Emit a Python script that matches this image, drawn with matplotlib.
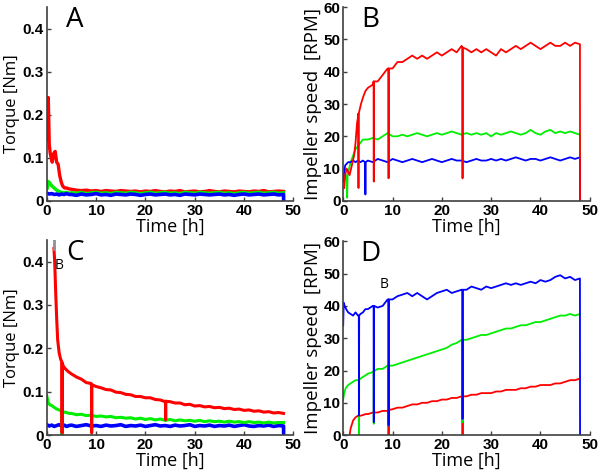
import numpy as np
import matplotlib
matplotlib.use("Agg")
import matplotlib.pyplot as plt
from matplotlib.ticker import FuncFormatter

# hourly grid used after the start-up transient (5 h .. 48 h)
late_t = np.arange(5, 49)

# ---------------- panel A : torque ----------------
a_red_t = [0.15, 0.3, 0.5, 0.7, 0.9, 1.1, 1.4, 1.7, 2.0, 2.3, 2.6, 2.9, 3.2, 3.6, 4.0, 4.5]
a_red_v = [0.14, 0.24, 0.13, 0.11, 0.10, 0.09, 0.11, 0.115, 0.09, 0.085, 0.06, 0.045, 0.035, 0.03, 0.03, 0.028]
a_red_late = [0.027, 0.025, 0.024, 0.025, 0.023, 0.024, 0.022, 0.024, 0.023, 0.022,
              0.024, 0.023, 0.022, 0.023, 0.021, 0.023, 0.022, 0.024, 0.022, 0.021,
              0.023, 0.022, 0.024, 0.021, 0.022, 0.023, 0.021, 0.022, 0.024, 0.022,
              0.021, 0.023, 0.022, 0.021, 0.023, 0.022, 0.021, 0.023, 0.022, 0.024,
              0.021, 0.022, 0.023, 0.022]
a_green_t = [0.1, 0.3, 0.6, 1.0, 1.5, 2.0, 2.5, 3.0, 3.5, 4.0, 4.5]
a_green_v = [0.03, 0.045, 0.042, 0.035, 0.03, 0.025, 0.022, 0.02, 0.019, 0.02, 0.018]
a_green_late = [0.019, 0.018, 0.020, 0.017, 0.019, 0.020, 0.018, 0.019, 0.017, 0.020,
                0.019, 0.018, 0.020, 0.019, 0.017, 0.019, 0.020, 0.018, 0.019, 0.020,
                0.018, 0.019, 0.017, 0.020, 0.019, 0.018, 0.020, 0.019, 0.018, 0.019,
                0.020, 0.018, 0.019, 0.017, 0.019, 0.020, 0.018, 0.019, 0.020, 0.018,
                0.019, 0.020, 0.018, 0.019]
a_blue_t = [0.0, 0.5, 1.0, 1.5, 2.0, 2.5, 3.0, 3.5, 4.0, 4.5]
a_blue_v = [0.018, 0.016, 0.017, 0.015, 0.016, 0.014, 0.016, 0.015, 0.017, 0.015]
a_blue_late = [0.015, 0.013, 0.016, 0.014, 0.015, 0.017, 0.014, 0.015, 0.013, 0.016,
               0.015, 0.014, 0.016, 0.015, 0.013, 0.015, 0.016, 0.014, 0.015, 0.016,
               0.014, 0.015, 0.013, 0.016, 0.015, 0.014, 0.016, 0.015, 0.014, 0.015,
               0.016, 0.014, 0.015, 0.013, 0.015, 0.016, 0.014, 0.015, 0.016, 0.014,
               0.015, 0.016, 0.014, 0.015]

# ---------------- panel B : impeller speed ----------------
b_red_t = [0.2, 0.4, 0.7, 1.0, 1.3, 1.6, 1.9, 2.2, 2.5, 2.8, 3.0, 3.3, 3.6, 4.0, 4.5]
b_red_v = [4, 8, 10, 9, 8, 10, 12, 14, 18, 24, 26, 28, 30, 32, 34]
b_red_late = [35, 36, 37, 39, 41, 41, 43, 43, 44, 45,
              44, 45, 44, 45, 46, 45, 46, 47, 46, 48,
              47, 46, 47, 46, 47, 46, 45, 47, 46, 47,
              48, 47, 48, 49, 48, 47, 48, 49, 48, 48,
              49, 48, 49, 48.5]
b_red_spike_t = [3.1, 6.2, 9.2, 24.2]
b_red_spike_lvl = [27, 37, 41, 47.5]
b_red_spike_dep = [4, 6, 7, 7]
b_green_t = [0.5, 0.7, 0.8, 0.9, 1.2, 1.5, 2.0, 2.5, 3.0, 3.5, 4.0, 4.5]
b_green_v = [8, 6, 1, 8, 10, 12, 14, 16, 17, 18, 19, 19]
b_green_late = [19, 19.5, 19, 20, 21, 20, 20, 20.5, 20, 20.5,
                21, 20.5, 20, 20.5, 21, 20.5, 21, 21.5, 21, 20.5,
                21, 20.5, 21, 20.5, 21, 20, 21, 20.5, 21, 21.5,
                21, 20.5, 21, 22, 21, 20.5, 21.5, 22, 21, 21.5,
                21, 21.5, 21, 20.5]
b_blue_t = [0.0, 0.2, 0.4, 0.7, 1.0, 1.5, 2.0, 2.5, 3.0, 3.5, 4.0, 4.4]
b_blue_v = [6, 9, 11, 11.5, 12, 12, 12.5, 12, 12.5, 12, 12.5, 12]
b_blue_late = [12.5, 12, 13, 12.5, 12, 13, 12.5, 12, 12.5, 13,
               12.5, 12, 12.5, 13, 12.5, 12, 12.5, 13, 12.5, 12.5,
               12, 12.5, 13, 12.5, 12.5, 13, 12.5, 13, 12.5, 13,
               13.5, 13, 12.5, 13, 13, 12.5, 13, 13.5, 13, 12.5,
               13, 13.5, 13, 13.5]
b_blue_spike_t = [4.5]
b_blue_spike_lvl = [12]
b_blue_spike_dep = [2]

# ---------------- panel C : torque ----------------
c_red_t = [1.45, 1.6, 1.8, 2.0, 2.2, 2.5, 2.8, 3.0, 3.3, 3.6, 4.0, 4.5]
c_red_v = [0.43, 0.40, 0.33, 0.27, 0.22, 0.19, 0.175, 0.17, 0.16, 0.155, 0.15, 0.145]
c_red_late = [0.141, 0.134, 0.129, 0.121, 0.119, 0.112, 0.109, 0.105, 0.104, 0.099,
              0.098, 0.094, 0.093, 0.089, 0.089, 0.086, 0.086, 0.082, 0.081, 0.077,
              0.077, 0.074, 0.074, 0.070, 0.071, 0.067, 0.068, 0.065, 0.066, 0.063,
              0.064, 0.061, 0.062, 0.059, 0.060, 0.057, 0.058, 0.055, 0.056, 0.053,
              0.054, 0.051, 0.052, 0.050]
c_red_spike_t = [3.1, 9.1, 24.1]
c_red_spike_lvl = [0.166, 0.116, 0.078]
c_red_spike_dep = [0.005, 0.005, 0.035]
c_green_t = [0.0, 0.3, 0.6, 1.0, 1.5, 2.0, 2.5, 3.0, 3.5, 4.0, 4.5]
c_green_v = [0.09, 0.075, 0.07, 0.068, 0.064, 0.06, 0.058, 0.055, 0.053, 0.052, 0.05]
c_green_late = [0.050, 0.047, 0.048, 0.045, 0.046, 0.043, 0.044, 0.042, 0.043, 0.040,
                0.041, 0.039, 0.040, 0.037, 0.039, 0.036, 0.038, 0.035, 0.037, 0.034,
                0.036, 0.033, 0.035, 0.033, 0.034, 0.032, 0.034, 0.031, 0.033, 0.031,
                0.032, 0.030, 0.032, 0.030, 0.031, 0.029, 0.031, 0.029, 0.030, 0.028,
                0.030, 0.028, 0.029, 0.029]
c_green_spike_t = [3.1]
c_green_spike_lvl = [0.055]
c_green_spike_dep = [0.0]
c_blue_t = [0.0, 0.5, 1.0, 1.5, 2.0, 2.5, 3.0, 3.5, 4.0, 4.5]
c_blue_v = [0.024, 0.021, 0.023, 0.020, 0.022, 0.024, 0.021, 0.023, 0.020, 0.022]
c_blue_late = [0.023, 0.020, 0.022, 0.024, 0.021, 0.022, 0.020, 0.023, 0.021, 0.022,
               0.024, 0.020, 0.022, 0.021, 0.023, 0.020, 0.022, 0.024, 0.021, 0.022,
               0.020, 0.023, 0.021, 0.022, 0.024, 0.020, 0.022, 0.021, 0.023, 0.020,
               0.022, 0.021, 0.023, 0.020, 0.022, 0.024, 0.021, 0.020, 0.022, 0.021,
               0.023, 0.020, 0.022, 0.021]

# ---------------- panel D : impeller speed ----------------
d_red_t = [1.3, 1.5, 1.8, 2.0, 2.5, 3.0, 3.5, 4.0, 4.5]
d_red_v = [0, 2, 3.5, 4.5, 5.5, 6, 6, 6.2, 6.5]
d_red_late = [6.5, 7, 7, 7.5, 7.5, 8, 8.5, 8.5, 9, 9.5,
              9.5, 10, 10, 10.5, 10.5, 11, 11, 11.5, 11.5, 12,
              12, 12.5, 12.5, 13, 13, 13, 13.5, 13.5, 14, 14,
              14, 14.5, 14.5, 15, 15, 15.5, 15.5, 15.5, 16, 16,
              16.5, 17, 17, 17.5]
d_red_spike_t = [3.2, 9.2, 24.2]
d_red_spike_lvl = [6, 7.8, 12]
d_red_spike_dep = [0, 0, 0]
d_green_t = [0.0, 0.2, 0.5, 1.0, 1.5, 2.0, 2.5, 3.0, 3.5, 4.0, 4.5]
d_green_v = [11, 13, 14.5, 15.5, 16, 16.5, 17, 17, 17.5, 18, 18.5]
d_green_late = [19, 19.5, 20.5, 20.5, 21.5, 21.5, 22, 22.5, 23, 23.5,
                24, 24.5, 25, 25.5, 26, 26.5, 27, 28, 28.5, 29.5,
                29.5, 30, 30.5, 31, 31, 31.5, 32, 32.5, 33, 33,
                33.5, 34, 34, 34.5, 35, 35, 35.5, 36, 36.5, 37,
                37, 37.5, 37, 37.5]
d_green_spike_t = [3.2, 6.2, 9.2, 24.2]
d_green_spike_lvl = [17, 19.8, 21.5, 29.5]
d_green_spike_dep = [0, 3.5, 3, 4]
d_blue_t = [0.0, 0.1, 0.3, 0.6, 1.0, 1.5, 2.0, 2.5, 3.0, 3.5, 4.0, 4.5]
d_blue_v = [34, 41, 40, 39, 38, 37.5, 37, 38, 37, 37.5, 38, 39]
d_blue_late = [39, 40, 39.5, 40, 42, 42, 43, 43.5, 44, 43,
               44, 43, 42, 43, 44, 44.5, 45, 44, 44.5, 45,
               45, 46, 45.5, 45, 46, 45.5, 46, 46.5, 47, 46.5,
               47, 46.5, 47, 47.5, 47, 48, 47.5, 48, 49, 49.5,
               48.5, 49, 48, 48.5]
d_blue_spike_t = [3.2, 6.2, 9.2, 24.2]
d_blue_spike_lvl = [37, 40, 42, 45]
d_blue_spike_dep = [6, 4, 3, 5]


def series(t0, v0, late, sp_t=(), sp_lvl=(), sp_dep=(), end=None):
    t = list(t0) + list(late_t)
    v = list(v0) + list(late)
    for ts, lv, dp in zip(sp_t, sp_lvl, sp_dep):
        t += [ts - 0.04, ts, ts + 0.04]
        v += [lv, dp, lv]
    order = np.argsort(t, kind="stable")
    t = list(np.array(t)[order]); v = list(np.array(v)[order])
    if end is not None:
        t.append(48.02); v.append(end)
    return t, v


RED, GREEN, BLUE = "#ff0000", "#00ee00", "#0000ff"
plt.rcParams["font.family"] = ["Open Sans", "DejaVu Sans"]

fig = plt.figure(figsize=(6, 4.75), dpi=100)
axA = fig.add_axes([0.078, 0.577, 0.411, 0.408])
axB = fig.add_axes([0.572, 0.577, 0.411, 0.408])
axC = fig.add_axes([0.078, 0.084, 0.411, 0.411])
axD = fig.add_axes([0.572, 0.084, 0.411, 0.408])

# A
axA.plot(*series(a_red_t, a_red_v, a_red_late), color=RED, lw=2.4)
axA.plot(*series(a_green_t, a_green_v, a_green_late), color=GREEN, lw=2.4)
axA.plot(*series(a_blue_t, a_blue_v, a_blue_late, end=0.0), color=BLUE, lw=2.6)
# B
axB.plot(*series(b_green_t, b_green_v, b_green_late, end=13), color=GREEN, lw=1.3)
axB.plot(*series(b_blue_t, b_blue_v, b_blue_late, b_blue_spike_t, b_blue_spike_lvl,
                 b_blue_spike_dep, end=0), color=BLUE, lw=1.3)
axB.plot(*series(b_red_t, b_red_v, b_red_late, b_red_spike_t, b_red_spike_lvl,
                 b_red_spike_dep, end=0), color=RED, lw=1.3)
# C
axC.plot(*series(c_blue_t, c_blue_v, c_blue_late, end=0.0), color=BLUE, lw=2.6)
axC.plot(*series(c_green_t, c_green_v, c_green_late, c_green_spike_t, c_green_spike_lvl,
                 c_green_spike_dep), color=GREEN, lw=2.2)
axC.plot(*series(c_red_t, c_red_v, c_red_late, c_red_spike_t, c_red_spike_lvl,
                 c_red_spike_dep), color=RED, lw=2.2)
axC.plot([c_red_t[0], c_red_t[0]], [c_red_v[0], 0.47], color="#909090", lw=2)
# D
axD.plot(*series(d_red_t, d_red_v, d_red_late, d_red_spike_t, d_red_spike_lvl,
                 d_red_spike_dep), color=RED, lw=1.3)
axD.plot(*series(d_green_t, d_green_v, d_green_late, d_green_spike_t, d_green_spike_lvl,
                 d_green_spike_dep), color=GREEN, lw=1.3)
axD.plot(*series(d_blue_t, d_blue_v, d_blue_late, d_blue_spike_t, d_blue_spike_lvl,
                 d_blue_spike_dep, end=0), color=BLUE, lw=1.3)

torque_fmt = FuncFormatter(lambda y, _: "0" if y == 0 else f"{y:.1f}")
for ax, letter in ((axA, "A"), (axB, "B"), (axC, "C"), (axD, "D")):
    torque = ax in (axA, axC)
    ax.set_xlim(0, 50)
    ax.set_xticks(range(0, 51, 10))
    if torque:
        ax.set_ylim(0, 0.45)
        ax.set_yticks([0, 0.1, 0.2, 0.3, 0.4])
        ax.yaxis.set_major_formatter(torque_fmt)
        ax.set_ylabel("Torque [Nm]", fontsize=12, labelpad=2)
        ax.text(5.7, 0.42, letter, fontsize=20, ha="center", va="center")
    else:
        ax.set_ylim(0, 60)
        ax.set_yticks(range(0, 61, 10))
        ax.set_ylabel("Impeller speed  [RPM]", fontsize=13.5, labelpad=1)
        ax.text(5.5, 56, letter, fontsize=20, ha="center", va="center")
    ax.set_xlabel("Time [h]", fontsize=13, labelpad=0)
    for s in ("top", "right"):
        ax.spines[s].set_visible(False)
    for s in ("left", "bottom"):
        ax.spines[s].set_color("#404040")
        ax.spines[s].set_linewidth(1.2)
    ax.tick_params(direction="in", length=3, width=1, color="#404040", pad=2)
    for lab in ax.get_xticklabels() + ax.get_yticklabels():
        lab.set_fontfamily("Liberation Sans")
        lab.set_fontweight("bold")
        lab.set_fontsize(11)

axC.text(2.5, 0.39, "B", fontsize=10, ha="center", va="center")
axD.text(8.2, 46.6, "B", fontsize=10, ha="center", va="center")

fig.savefig("out.png", dpi=100)
